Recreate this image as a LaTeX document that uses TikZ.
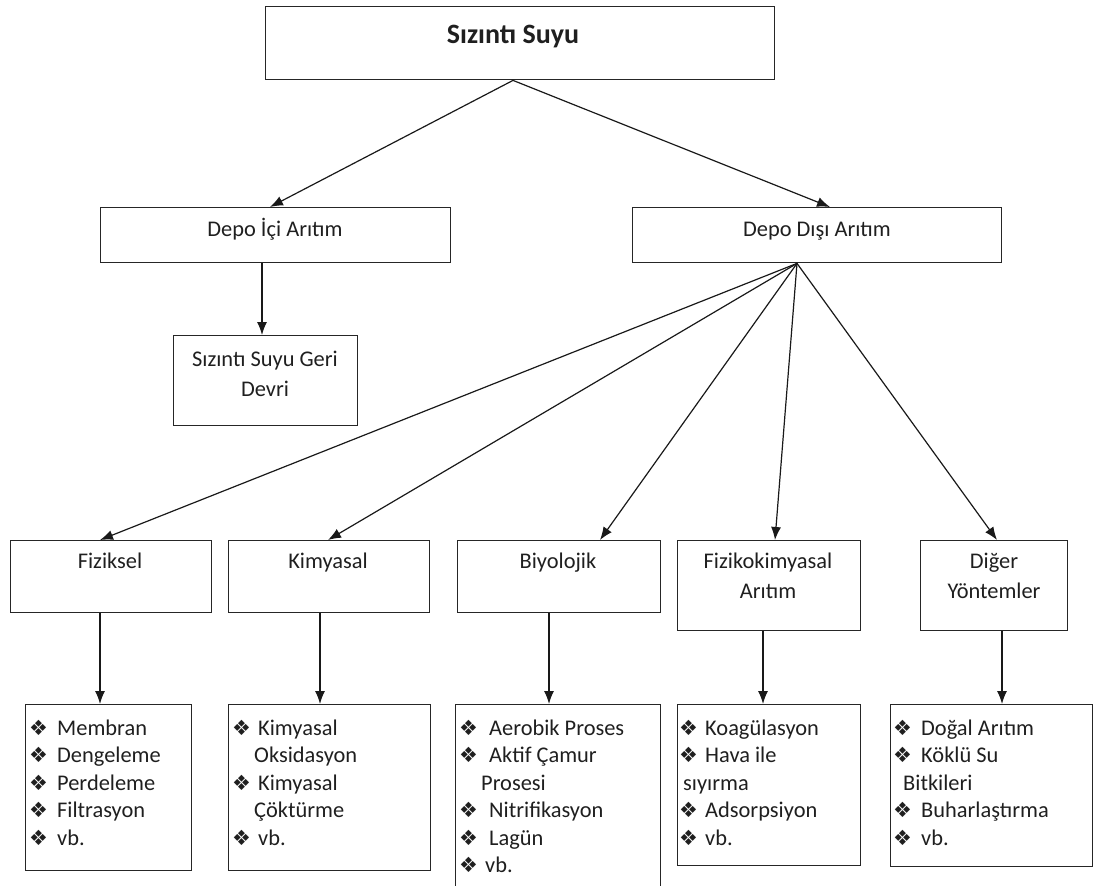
\documentclass[tikz,border=0pt]{standalone}
\usepackage{fontspec}
\setmainfont{Carlito}
\newfontfamily\symfont{DejaVu Sans}
\usetikzlibrary{arrows.meta}

% bullet glyph and list helpers
\newcommand\bul{{\symfont\fontsize{21}{21}\selectfont ❖}}
\newcommand\itm[2][28pt]{\makebox[#1][l]{\bul}#2}
\newcommand\cont[2]{\hspace*{#1}#2}
\newcommand\lines[1]{\vtop{\halign{\hfil##\hfil\cr#1\crcr}}}
\newcommand\llines[1]{\vtop{\halign{##\hfil\cr#1\crcr}}}

\tikzset{
  box/.style={draw=black!85, line width=1.4pt, anchor=north west, inner sep=0pt},
  lbl/.style={anchor=base, inner sep=0pt, text=black!88,
    font=\fontsize{22.4}{30}\selectfont},
  lst/.style={anchor=base west, inner sep=0pt, text=black!88,
    font=\fontsize{22.4}{27.5}\selectfont},
  conn/.style={draw=black!90, line width=1.2pt, -{Latex[length=13pt,width=10pt]}}
}

\begin{document}
\begin{tikzpicture}[x=1pt,y=-1pt]
\useasboundingbox (0,0) rectangle (1096,886);
\clip (0,0) rectangle (1096,886);

% boxes
\node[box, minimum width=509, minimum height=73] (top) at (265,6) {};
\node[box, minimum width=350, minimum height=55] (dii) at (100,207) {};
\node[box, minimum width=369, minimum height=55] (ddi) at (632,207) {};
\node[box, minimum width=184, minimum height=90] (geri) at (173,335) {};
\node[box, minimum width=201, minimum height=72] (fiz) at (10,540) {};
\node[box, minimum width=201, minimum height=72] (kim) at (228,540) {};
\node[box, minimum width=203, minimum height=72] (biy) at (457,540) {};
\node[box, minimum width=183, minimum height=90] (fk) at (677,540) {};
\node[box, minimum width=147, minimum height=90] (dig) at (920,540) {};
\node[box, minimum width=166, minimum height=166] (l1) at (25,704) {};
\node[box, minimum width=202, minimum height=166] (l2) at (228,704) {};
\node[box, minimum width=205, minimum height=200] (l3) at (455,704) {};
\node[box, minimum width=183, minimum height=161] (l4) at (677,704) {};
\node[box, minimum width=202, minimum height=162] (l5) at (890,704) {};

% box texts
\node[lbl, font=\fontsize{28}{30}\bfseries] (topt) at (513,43) {Sızıntı Suyu};
\node[lbl] (diit) at (275,236) {Depo İçi Arıtım};
\node[lbl] (ddit) at (817,236) {Depo Dışı Arıtım};
\node[lbl] (gerit) at (265,366) {\lines{Sızıntı Suyu Geri\cr Devri}};
\node[lbl] (fizt) at (110,568) {Fiziksel};
\node[lbl] (kimt) at (328,568) {Kimyasal};
\node[lbl] (biyt) at (558,568) {Biyolojik};
\node[lbl] (fkt) at (768,568) {\lines{Fizikokimyasal\cr Arıtım}};
\node[lbl] (digt) at (994,568) {\lines{Diğer\cr Yöntemler}};

% bullet lists
\node[lst] (l1t) at (29,735) {\llines{\itm{Membran}\cr \itm{Dengeleme}\cr
  \itm{Perdeleme}\cr \itm{Filtrasyon}\cr \itm{vb.}}};
\node[lst] (l2t) at (232,735) {\llines{\itm[26pt]{Kimyasal}\cr \cont{22pt}{Oksidasyon}\cr
  \itm[26pt]{Kimyasal}\cr \cont{22pt}{Çöktürme}\cr \itm[26pt]{vb.}}};
\node[lst] (l3t) at (459,735) {\llines{\itm[30pt]{Aerobik Proses}\cr \itm[30pt]{Aktif Çamur}\cr
  \cont{22pt}{Prosesi}\cr \itm[30pt]{Nitrifikasyon}\cr \itm[30pt]{Lagün}\cr \itm[26pt]{vb.}}};
\node[lst] (l4t) at (679,735) {\llines{\itm[26pt]{Koagülasyon}\cr \itm[26pt]{Hava ile}\cr
  \cont{4pt}{sıyırma}\cr \itm[26pt]{Adsorpsiyon}\cr \itm[26pt]{vb.}}};
\node[lst] (l5t) at (893,735) {\llines{\itm{Doğal Arıtım}\cr \itm{Köklü Su}\cr
  \cont{10pt}{Bitkileri}\cr \itm{Buharlaştırma}\cr \itm{vb.}}};

% connectors
\coordinate (topo) at ([xshift=248]top.south west);
\coordinate (fan) at ([xshift=165]ddi.south west);
\draw[conn] (topo) -- ([xshift=170]dii.north west);
\draw[conn] (topo) -- ([xshift=198]ddi.north west);
\draw[conn] ([xshift=162]dii.south west) -- ([xshift=162]dii.south west |- geri.north);
\draw[conn] (fan) -- ([xshift=90]fiz.north west);
\draw[conn] (fan) -- ([xshift=100]kim.north west);
\draw[conn] (fan) -- ([xshift=143]biy.north west);
\draw[conn] (fan) -- ([xshift=98]fk.north west);
\draw[conn] (fan) -- ([xshift=77]dig.north west);
\draw[conn] ([xshift=90]fiz.south west) -- ([xshift=90]fiz.south west |- l1.north);
\draw[conn] ([xshift=92]kim.south west) -- ([xshift=92]kim.south west |- l2.north);
\draw[conn] ([xshift=92]biy.south west) -- ([xshift=92]biy.south west |- l3.north);
\draw[conn] ([xshift=86]fk.south west) -- ([xshift=86]fk.south west |- l4.north);
\draw[conn] ([xshift=82]dig.south west) -- ([xshift=82]dig.south west |- l5.north);
\end{tikzpicture}
\end{document}
